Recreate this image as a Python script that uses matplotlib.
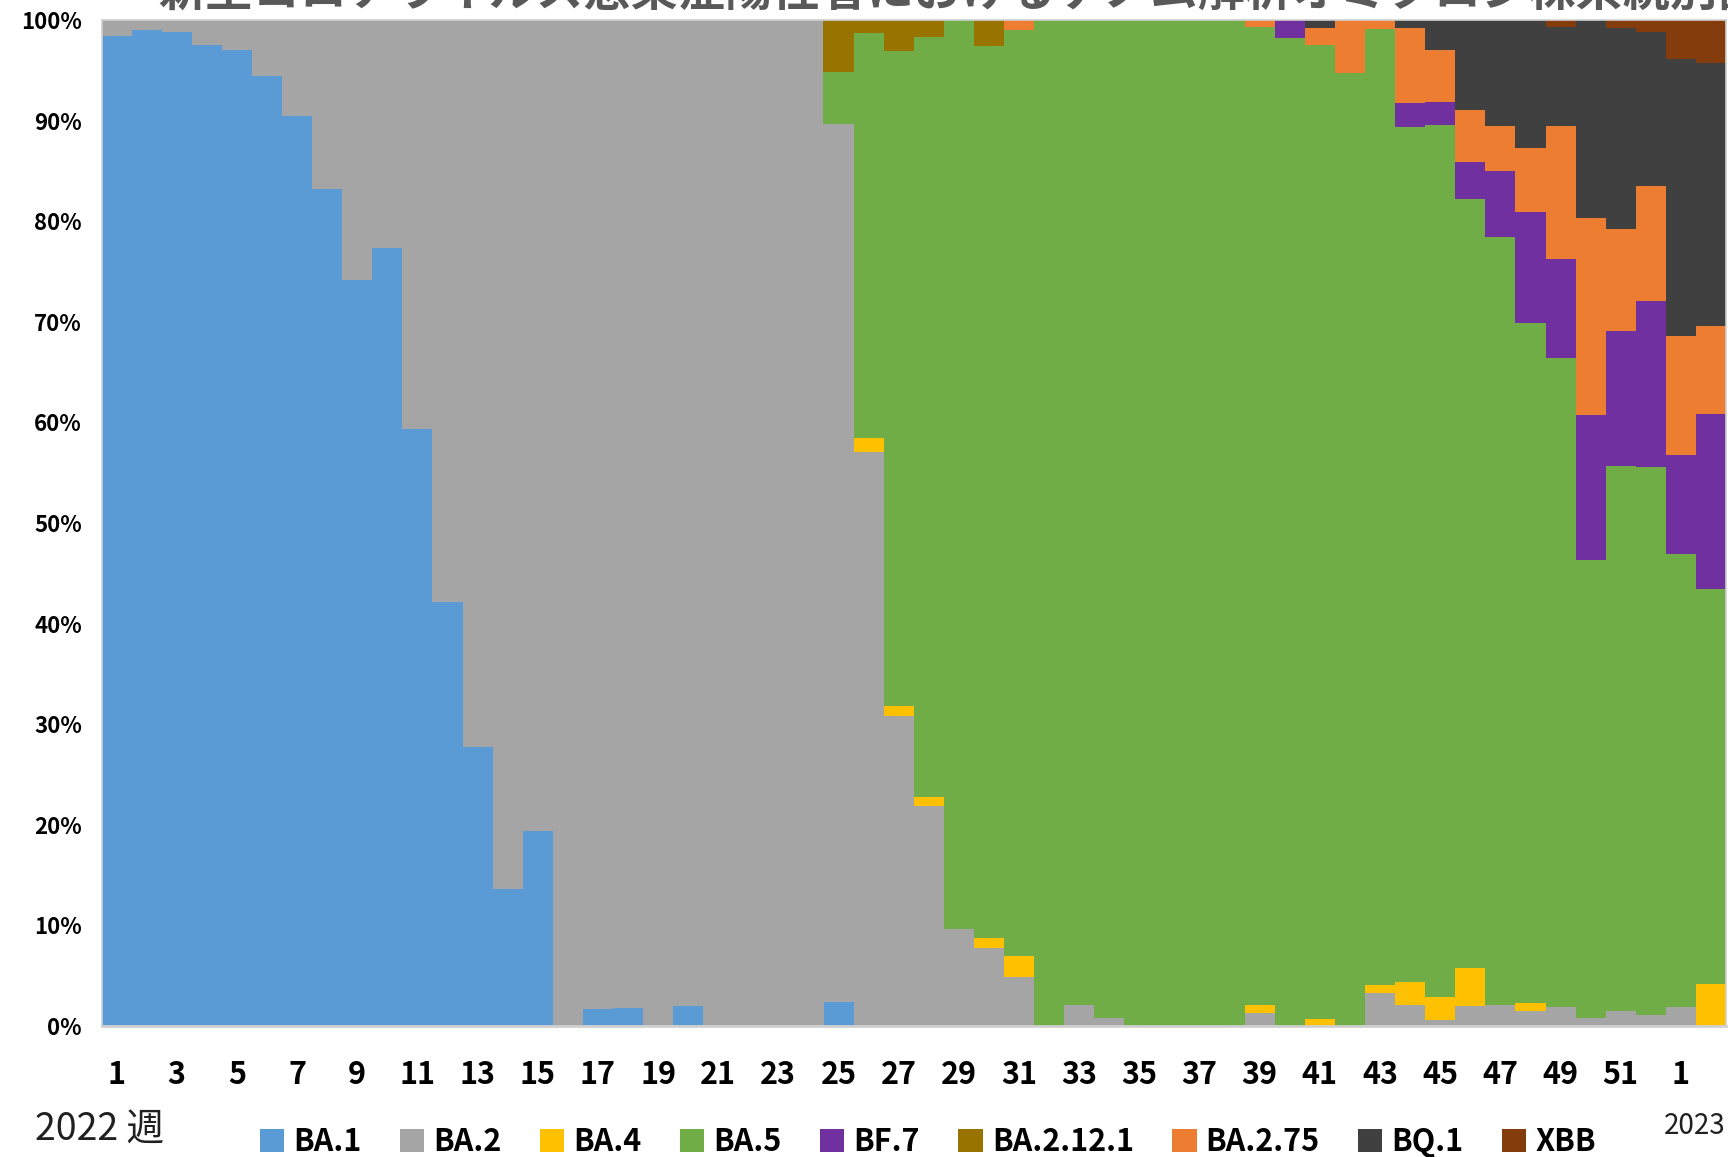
import matplotlib
matplotlib.use("Agg")
import matplotlib.pyplot as plt
import numpy as np
from matplotlib.patches import Patch

# -------------------------------
# Data (share of each lineage per week, %)
# 2022 week 1..52, then 2023 week 1..2
# -------------------------------
weeks = list(range(1, 53)) + [1, 2]

lineages = ["BA.1", "BA.2", "BA.4", "BA.5", "BF.7", "BA.2.12.1", "BA.2.75", "BQ.1", "XBB"]
colors = ["#5B9BD5", "#A5A5A5", "#FFC000", "#70AD47", "#7030A0", "#997300", "#ED7D31", "#404040", "#843C0C"]

ba1 = [98.4, 99.0, 98.8, 97.5, 97.0, 94.4, 90.5, 83.2, 74.2, 77.3,
       59.3, 42.1, 27.7, 13.6, 19.4, 0, 1.7, 1.8, 0, 2.0,
       0, 0, 0, 0, 2.4, 0, 0, 0, 0, 0,
       0, 0, 0, 0, 0, 0, 0, 0, 0, 0,
       0, 0, 0, 0, 0, 0, 0, 0, 0, 0,
       0, 0, 0, 0]
ba2 = [1.6, 1.0, 1.2, 2.5, 3.0, 5.6, 9.5, 16.8, 25.8, 22.7,
       40.7, 57.9, 72.3, 86.4, 80.6, 100, 98.3, 98.2, 100, 98.0,
       100, 100, 100, 100, 87.3, 57.1, 30.8, 21.9, 9.6, 7.8,
       4.9, 0, 2.1, 0.8, 0, 0, 0, 0, 1.3, 0,
       0, 0, 3.25, 2.1, 0.6, 2.0, 2.1, 1.45, 1.9, 0.8,
       1.5, 1.1, 1.9, 0]
ba4 = [0] * 25 + [1.3, 1.0, 0.9, 0, 0.9,
                  2.1, 0, 0, 0, 0, 0, 0, 0, 0.75, 0,
                  0.7, 0, 0.85, 2.3, 2.25, 3.75, 0, 0.8, 0, 0,
                  0, 0, 0, 4.2]
ba5 = [0] * 24 + [5.1, 40.3, 65.1, 75.5, 90.4, 88.7,
                  92.0, 100, 97.9, 99.2, 100, 100, 100, 100, 97.25, 98.2,
                  96.8, 94.7, 95.0, 85.0, 86.75, 76.45, 76.3, 67.6, 64.5, 45.5,
                  54.2, 54.5, 45.0, 39.2]
bf7 = [0] * 39 + [1.8,
                  0, 0, 0, 2.3, 2.2, 3.7, 6.6, 11.05, 9.8, 14.4,
                  13.4, 16.5, 9.9, 17.4]
ba2121 = [0] * 24 + [5.2, 1.3, 3.1, 1.7, 0, 2.6,
                     0, 0, 0, 0, 0, 0, 0, 0, 0, 0,
                     0, 0, 0, 0, 0, 0, 0, 0, 0, 0,
                     0, 0, 0, 0]
ba275 = [0] * 30 + [1.0, 0, 0, 0, 0, 0, 0, 0, 0.7, 0,
                    1.7, 5.3, 0.9, 7.5, 5.2, 5.2, 4.5, 6.4, 13.3, 19.6,
                    10.1, 11.4, 11.8, 8.8]
bq1 = [0] * 40 + [0.8, 0, 0, 0.8, 3.0, 8.9, 10.5, 12.7, 9.8, 19.7,
                  20.0, 15.3, 27.5, 26.1]
xbb = [0] * 48 + [0.7, 0, 0.8, 1.2, 3.9, 4.3]

series = [ba1, ba2, ba4, ba5, bf7, ba2121, ba275, bq1, xbb]

tick_pos = list(range(0, 52, 2)) + [52]
tick_labels = [str(weeks[i]) for i in tick_pos]

# -------------------------------
# Fonts
# -------------------------------
plt.rcParams['font.family'] = ['Noto Sans CJK JP', 'DejaVu Sans']
jp = ['Noto Sans CJK JP', 'DejaVu Sans']

# -------------------------------
# Plot
# -------------------------------
fig = plt.figure(figsize=(17.28, 11.57), dpi=100)
ax = fig.add_axes([101.5 / 1728, 1 - 1026 / 1157, (1726 - 101.5) / 1728, (1026 - 20) / 1157])

x = np.arange(len(weeks))
bottom = np.zeros(len(weeks))
for name, vals, col in zip(lineages, series, colors):
    v = np.array(vals, dtype=float)
    ax.bar(x, v, bottom=bottom, width=1.0, color=col, edgecolor='none', label=name)
    bottom += v

ax.set_xlim(-0.5, len(weeks) - 0.5)
ax.set_ylim(0, 100)
ax.set_yticks(range(0, 101, 10))
ax.set_yticklabels([f"{t}%" for t in range(0, 101, 10)], fontsize=16, fontweight='bold')
ax.set_xticks(tick_pos)
ax.set_xticklabels(tick_labels, fontsize=22, fontweight='bold')
ax.tick_params(axis='both', length=0)
ax.tick_params(axis='x', pad=24)
ax.tick_params(axis='y', pad=14)
for s in ax.spines.values():
    s.set_color('#D0D0D0')
    s.set_linewidth(1.2)
ax.spines['bottom'].set_linewidth(2.0)

# Title (cut off by the top edge in the source picture)
fig.text(985 / 1728, 1 - 7 / 1157,
         "新型コロナウイルス感染症陽性者におけるゲノム解析オミクロン株系統別割合",
         family=jp, fontsize=34, fontweight='bold', color='#595959',
         ha='center', va='baseline')

fig.text(35 / 1728, 1 - 1130 / 1157, "2022 週", family=jp, fontsize=27,
         color='#202020', ha='left', va='center')
fig.text(1664 / 1728, 1 - 1126 / 1157, "2023", family=jp, fontsize=20,
         color='#202020', ha='left', va='center')

handles = [Patch(facecolor=c, edgecolor='none', label=n) for n, c in zip(lineages, colors)]
fig.legend(handles=handles, loc='center', bbox_to_anchor=(928 / 1728, 1 - 1142 / 1157),
           ncol=9, frameon=False, prop={'size': 22, 'weight': 'bold'},
           handlelength=0.8, handleheight=0.8, handletextpad=0.3, columnspacing=1.25)

fig.savefig('out.png', dpi=100)
